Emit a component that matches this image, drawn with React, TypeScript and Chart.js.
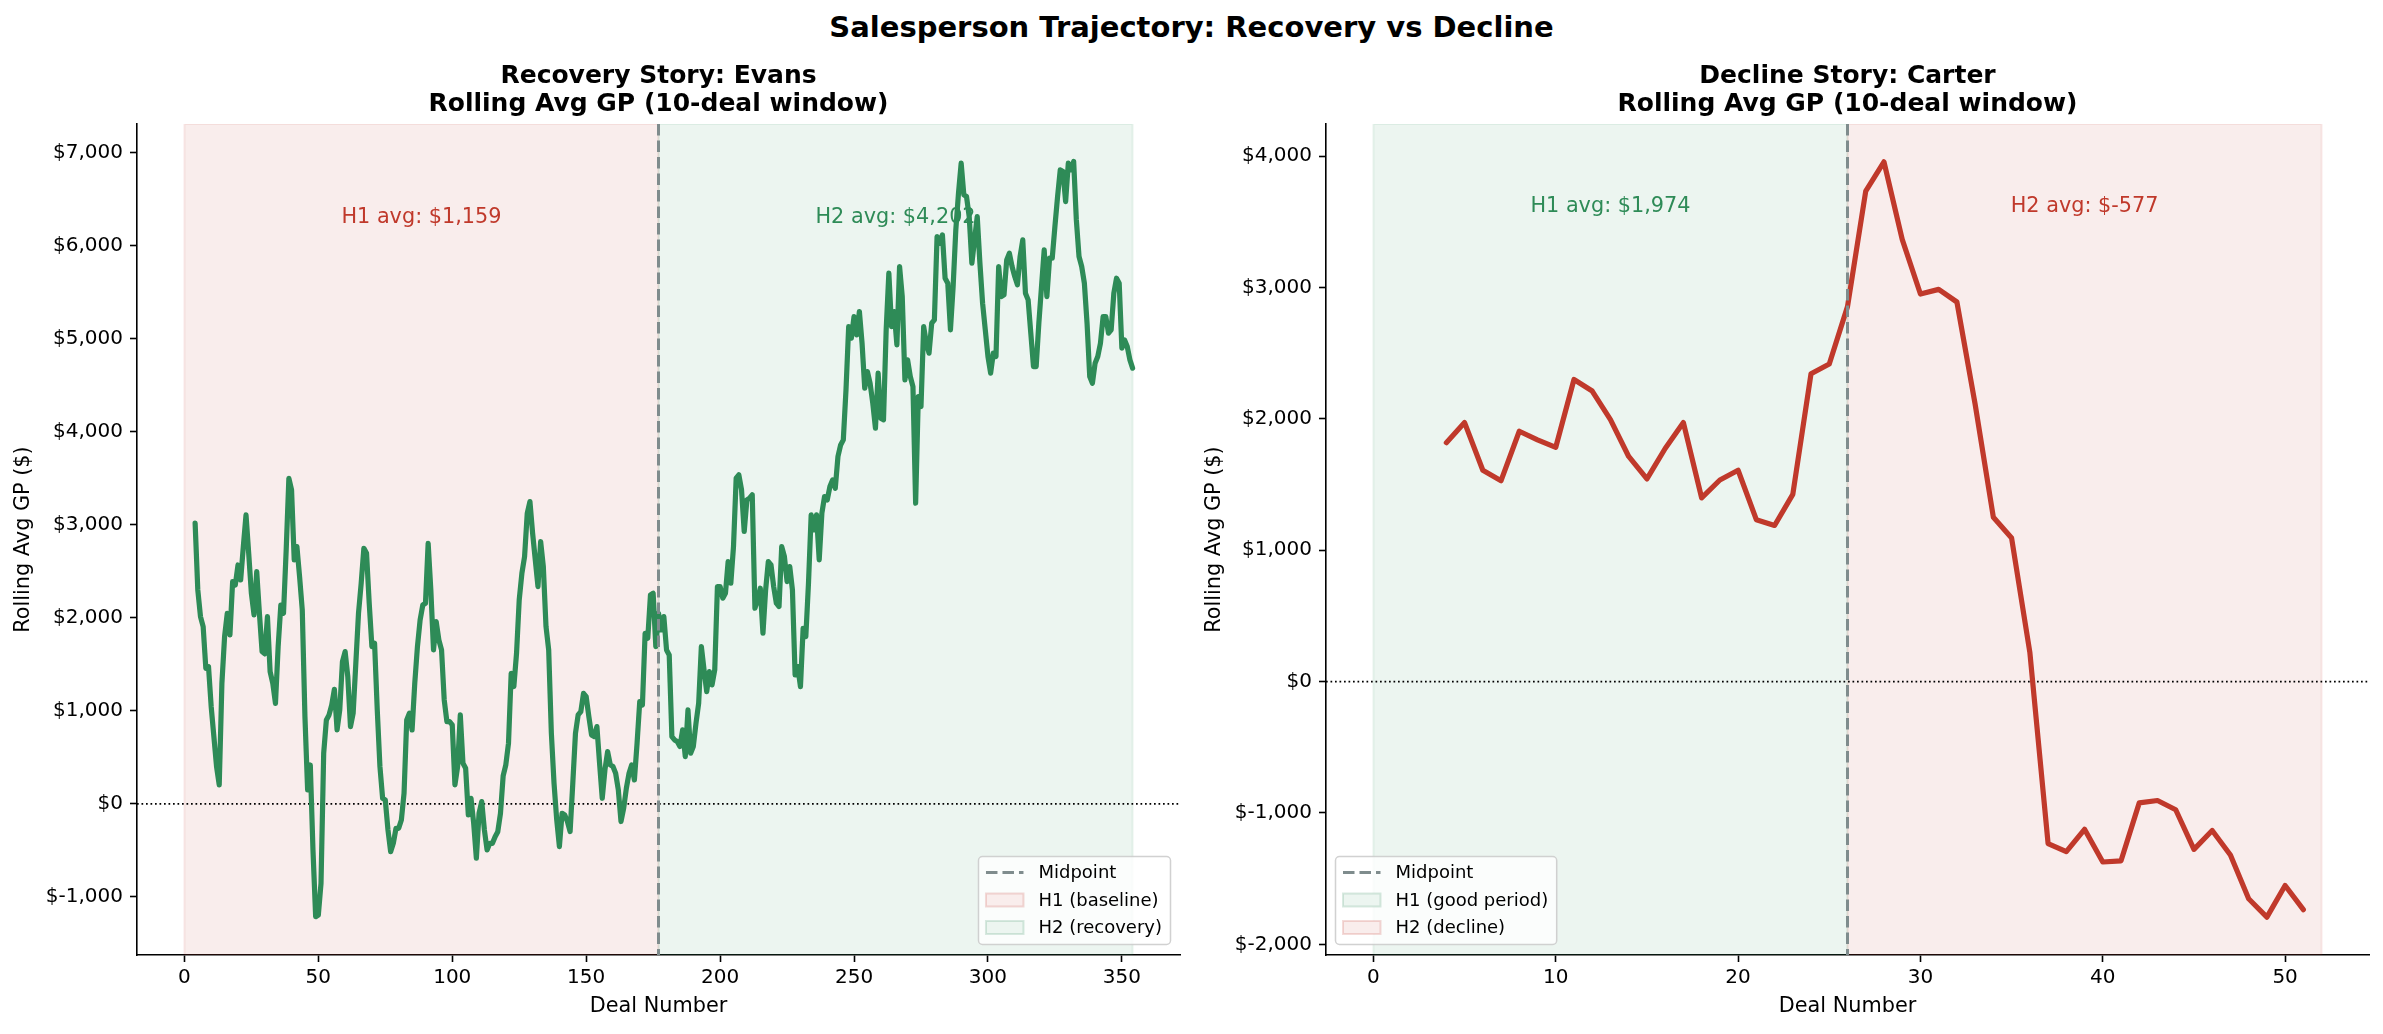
import React, { useEffect, useRef } from "react";
import { Chart, registerables } from "chart.js";

Chart.register(...registerables);

const FONT = "'DejaVu Sans', 'Liberation Sans', sans-serif";
const PAGE_W = 2383;
const PAGE_H = 1034;

const SUPTITLE = "Salesperson Trajectory: Recovery vs Decline";

// ---- Evans: rolling avg GP (10-deal window), deals 4..354 ----
const EVANS_FIRST_DEAL = 4;
const EVANS_ROLLING_GP = [
  3017, 2300, 2013, 1905, 1457, 1475, 1045, 723, 400, 203,
  1296, 1798, 2049, 1816, 2389, 2353, 2568, 2407, 2766, 3106,
  2694, 2264, 2031, 2497, 2049, 1637, 1612, 2013, 1422, 1296,
  1081, 1690, 2138, 2049, 2730, 3500, 3375, 2622, 2766, 2443,
  2085, 938, 149, 418, -496, -1213, -1195, -854, 544, 902,
  956, 1063, 1232, 794, 1010, 1529,
  1637, 1368, 830, 974, 1511, 2049, 2371, 2748, 2694, 2156,
  1690, 1726, 1010, 400, 60, 42, -281, -514, -424, -263,
  -263, -173, 113, 902, 974, 794, 1296, 1690, 1977, 2138,
  2156, 2801, 2300, 1655, 1959, 1762, 1655, 1117, 884, 884,
  848, 203, 400, 956, 436, 382, -120, 60, -209, -585,
  -102, 24, -281, -496, -424, -424, -353, -299, -102, 300,
  420, 652, 1404, 1261, 1619, 2193, 2479, 2658, 3124, 3250,
  2909, 2623, 2336, 2820, 2551, 1906, 1655, 759, 221, -172,
  -459, -101, -119, -190, -298, 221, 759, 956, 992, 1189,
  1153, 938, 741, 723, 831, 437, 60, 365, 562, 419,
  401, 329, 150, -190, -47, 168, 329, 419, 257, 652,
  1100, 1064, 1834, 1781, 2246, 2264, 1691, 2049, 1870, 2013,
  1655, 1601, 723, 687, 670, 616, 795, 508, 1010, 544,
  616, 867, 1082, 1691, 1440, 1207, 1422, 1279, 1440, 2336,
  2336, 2211, 2264, 2605, 2372, 2766, 3501, 3537, 3376, 2928,
  3268, 3286, 3322, 2103, 2193, 2318, 1834, 2300, 2605, 2569,
  2336, 2157, 2121, 2766, 2659, 2390, 2551, 2300, 1386, 1476,
  1261, 1888, 1798, 2372, 3107, 2945, 3107, 2623, 3125, 3304,
  3268, 3411, 3483, 3393, 3734, 3859, 3913, 4450, 5131, 5006,
  5239, 5042, 5293, 4952, 4468, 4648, 4522, 4307, 4038, 4630,
  4146, 4128, 5096, 5705, 5131, 5293, 4934, 5777, 5454, 4558,
  4773, 4594, 4486, 3232, 4379, 4271, 5131, 4952, 4845, 5167,
  5203, 6099, 6027, 6117, 5651, 5597, 5096, 5562, 6171, 6565,
  6888, 6547, 6529, 6314, 5812, 6063, 6314, 5812, 5382, 5096,
  4809, 4630, 4845, 4809, 5777, 5454, 5472, 5848, 5920, 5777,
  5669, 5580, 5884, 6063, 5490, 5418, 5060, 4701, 4701, 5167,
  5562, 5956, 5454, 5866, 5866, 6207, 6529, 6816, 6798, 6475,
  6888, 6816, 6906, 6278, 5884, 5777, 5597, 5167, 4594, 4522,
  4737, 4809, 4952, 5239, 5239, 5060, 5096, 5490, 5651, 5597,
  4898, 4988, 4916, 4773, 4684,
];

// ---- Carter: rolling avg GP (10-deal window), deals 4..51 ----
const CARTER_FIRST_DEAL = 4;
const CARTER_ROLLING_GP = [
  1819, 1972, 1609, 1530, 1906, 1841, 1784, 2300, 2212, 1994,
  1714, 1543, 1775, 1972, 1399, 1535, 1609, 1233, 1189, 1425,
  2344, 2418, 2855, 3734, 3957, 3367, 2951, 2986, 2890, 2112,
  1251, 1093, 223, -1233, -1294, -1124, -1373, -1364, -923, -905,
  -975, -1277, -1133, -1320, -1653, -1793, -1552, -1736,
];

const EVANS_X_TICKS = [0, 50, 100, 150, 200, 250, 300, 350];
const EVANS_Y_TICKS = [-1000, 0, 1000, 2000, 3000, 4000, 5000, 6000, 7000];
const CARTER_X_TICKS = [0, 10, 20, 30, 40, 50];
const CARTER_Y_TICKS = [-2000, -1000, 0, 1000, 2000, 3000, 4000];

const EVANS_SPLIT = [0, 177, 354];
const CARTER_SPLIT = [0, 26, 52];

const EVANS_AVG_LABELS = ["H1 avg: $1,159", "H2 avg: $4,202"];
const CARTER_AVG_LABELS = ["H1 avg: $1,974", "H2 avg: $-577"];
const EVANS_AVG_LABEL_Y = 6300;
const CARTER_AVG_LABEL_Y = 3620;

const EVANS_LEGEND = ["Midpoint", "H1 (baseline)", "H2 (recovery)"];
const CARTER_LEGEND = ["Midpoint", "H1 (good period)", "H2 (decline)"];

const GREEN = "#2e8b57";
const RED = "#c0392b";
const MID_GRAY = "#7f8c8d";
const SPAN_ALPHA = 0.09;

function rgba(hex: string, a: number): string {
  const n = parseInt(hex.slice(1), 16);
  return `rgba(${(n >> 16) & 255},${(n >> 8) & 255},${n & 255},${a})`;
}

interface PanelSpec {
  left: number;
  width: number;
  yAxisWidth: number;
  padRight: number;
  title: string[];
  firstDeal: number;
  values: number[];
  color: string;
  xMin: number;
  xMax: number;
  yMin: number;
  yMax: number;
  xTicks: number[];
  yTicks: number[];
  split: number[];
  h1Color: string;
  h2Color: string;
  avgLabels: string[];
  avgY: number;
  legendSide: "left" | "right";
  legendLabels: string[];
}

const EVANS_SPEC: PanelSpec = {
  left: 0,
  width: 1191,
  yAxisWidth: 137,
  padRight: 11,
  title: ["Recovery Story: Evans", "Rolling Avg GP (10-deal window)"],
  firstDeal: EVANS_FIRST_DEAL,
  values: EVANS_ROLLING_GP,
  color: GREEN,
  xMin: -17.7,
  xMax: 371.7,
  yMin: -1625,
  yMax: 7309,
  xTicks: EVANS_X_TICKS,
  yTicks: EVANS_Y_TICKS,
  split: EVANS_SPLIT,
  h1Color: RED,
  h2Color: GREEN,
  avgLabels: EVANS_AVG_LABELS,
  avgY: EVANS_AVG_LABEL_Y,
  legendSide: "right",
  legendLabels: EVANS_LEGEND,
};

const CARTER_SPEC: PanelSpec = {
  left: 1191,
  width: 1192,
  yAxisWidth: 135,
  padRight: 14,
  title: ["Decline Story: Carter", "Rolling Avg GP (10-deal window)"],
  firstDeal: CARTER_FIRST_DEAL,
  values: CARTER_ROLLING_GP,
  color: RED,
  xMin: -2.6,
  xMax: 54.6,
  yMin: -2081,
  yMax: 4245,
  xTicks: CARTER_X_TICKS,
  yTicks: CARTER_Y_TICKS,
  split: CARTER_SPLIT,
  h1Color: GREEN,
  h2Color: RED,
  avgLabels: CARTER_AVG_LABELS,
  avgY: CARTER_AVG_LABEL_Y,
  legendSide: "left",
  legendLabels: CARTER_LEGEND,
};

function Panel({ spec }: { spec: PanelSpec }) {
  const ref = useRef<HTMLCanvasElement | null>(null);

  useEffect(() => {
    const canvas = ref.current;
    if (!canvas) return;

    const overlay = {
      id: "overlay",
      beforeDatasetsDraw(chart: any) {
        const { ctx, chartArea: ca } = chart;
        const xs = chart.scales.x;
        const ys = chart.scales.y;
        const p0 = xs.getPixelForValue(spec.split[0]);
        const pm = xs.getPixelForValue(spec.split[1]);
        const p1 = xs.getPixelForValue(spec.split[2]);
        ctx.save();
        ctx.beginPath();
        ctx.rect(ca.left, ca.top, ca.right - ca.left, ca.bottom - ca.top);
        ctx.clip();
        const span = (a: number, b: number, c: string) => {
          ctx.fillStyle = rgba(c, SPAN_ALPHA);
          ctx.fillRect(a, ca.top, b - a, ca.bottom - ca.top);
          ctx.strokeStyle = rgba(c, SPAN_ALPHA);
          ctx.lineWidth = 2;
          ctx.strokeRect(a, ca.top, b - a, ca.bottom - ca.top);
        };
        span(p0, pm, spec.h1Color);
        span(pm, p1, spec.h2Color);
        // zero line
        const y0 = ys.getPixelForValue(0);
        ctx.setLineDash([1.7, 2.8]);
        ctx.lineWidth = 1.6;
        ctx.strokeStyle = "#000";
        ctx.beginPath();
        ctx.moveTo(ca.left, y0);
        ctx.lineTo(ca.right, y0);
        ctx.stroke();
        ctx.setLineDash([]);
        // average labels
        ctx.font = `20.8px ${FONT}`;
        ctx.textAlign = "center";
        ctx.textBaseline = "middle";
        const ty = ys.getPixelForValue(spec.avgY);
        ctx.fillStyle = spec.h1Color;
        ctx.fillText(spec.avgLabels[0], xs.getPixelForValue((spec.split[0] + spec.split[1]) / 2), ty);
        ctx.fillStyle = spec.h2Color;
        ctx.fillText(spec.avgLabels[1], xs.getPixelForValue((spec.split[1] + spec.split[2]) / 2), ty);
        ctx.restore();
      },
      afterDatasetsDraw(chart: any) {
        const { ctx, chartArea: ca } = chart;
        const pm = chart.scales.x.getPixelForValue(spec.split[1]);
        ctx.save();
        ctx.strokeStyle = MID_GRAY;
        ctx.lineWidth = 3;
        ctx.setLineDash([11.5, 5]);
        ctx.beginPath();
        ctx.moveTo(pm, ca.top);
        ctx.lineTo(pm, ca.bottom);
        ctx.stroke();
        ctx.restore();
      },
      afterDraw(chart: any) {
        const { ctx, chartArea: ca } = chart;
        const fs = 18;
        ctx.save();
        ctx.font = `${fs}px ${FONT}`;
        const textW = Math.max(...spec.legendLabels.map((t) => ctx.measureText(t).width));
        const padX = 7.5;
        const handleLen = 37.5;
        const gap = 15;
        const boxW = padX + handleLen + gap + textW + padX + 1;
        const boxH = 88;
        const bx = spec.legendSide === "right" ? ca.right - 9.5 - boxW : ca.left + 9.5;
        const by = ca.bottom - 10.5 - boxH;
        ctx.beginPath();
        if ((ctx as any).roundRect) (ctx as any).roundRect(bx, by, boxW, boxH, 4);
        else ctx.rect(bx, by, boxW, boxH);
        ctx.fillStyle = "rgba(255,255,255,0.8)";
        ctx.fill();
        ctx.strokeStyle = "rgba(204,204,204,0.9)";
        ctx.lineWidth = 1.5;
        ctx.stroke();
        const colors = [MID_GRAY, spec.h1Color, spec.h2Color];
        spec.legendLabels.forEach((label, i) => {
          const cy = by + 16 + i * 27.5;
          const hx = bx + padX;
          if (i === 0) {
            ctx.strokeStyle = colors[0];
            ctx.lineWidth = 3;
            ctx.setLineDash([11.5, 5]);
            ctx.beginPath();
            ctx.moveTo(hx, cy);
            ctx.lineTo(hx + handleLen, cy);
            ctx.stroke();
            ctx.setLineDash([]);
          } else {
            ctx.fillStyle = "#fff";
            ctx.fillRect(hx, cy - 6.5, handleLen, 13);
            ctx.fillStyle = rgba(colors[i], SPAN_ALPHA);
            ctx.fillRect(hx, cy - 6.5, handleLen, 13);
            ctx.strokeStyle = rgba(colors[i], 0.18);
            ctx.lineWidth = 2;
            ctx.strokeRect(hx, cy - 6.5, handleLen, 13);
          }
          ctx.fillStyle = "#000";
          ctx.textAlign = "left";
          ctx.textBaseline = "middle";
          ctx.fillText(label, hx + handleLen + gap, cy + 1);
        });
        ctx.restore();
      },
    };

    const tickFont = { family: FONT, size: 20 };
    const labelFont = { family: FONT, size: 20.8 };

    const chart = new Chart(canvas, {
      type: "line",
      data: {
        datasets: [
          {
            data: spec.values.map((v, i) => ({ x: spec.firstDeal + i, y: v })),
            borderColor: spec.color,
            backgroundColor: spec.color,
            borderWidth: 5.2,
            pointRadius: 0,
            pointHoverRadius: 0,
            tension: 0,
            fill: false,
            borderJoinStyle: "round",
            borderCapStyle: "round",
          },
        ],
      },
      options: {
        animation: false,
        responsive: false,
        devicePixelRatio: 1,
        events: [],
        layout: { padding: { left: 0, right: spec.padRight, top: 0, bottom: 0 } },
        plugins: {
          legend: { display: false },
          tooltip: { enabled: false },
          title: {
            display: true,
            text: spec.title,
            fullSize: false,
            color: "#000",
            font: { family: FONT, size: 25, weight: "bold", lineHeight: 1.13 },
            padding: { top: 62.5, bottom: 5 },
          },
        },
        scales: {
          x: {
            type: "linear",
            min: spec.xMin,
            max: spec.xMax,
            afterBuildTicks: (s: any) => {
              s.ticks = spec.xTicks.map((v) => ({ value: v }));
            },
            afterFit: (s: any) => {
              s.height = 79;
            },
            grid: {
              display: true,
              drawOnChartArea: false,
              drawTicks: true,
              tickLength: 7,
              tickWidth: 1.6,
              tickColor: "#000",
            },
            border: { display: true, color: "#000", width: 1.6 },
            ticks: {
              color: "#000",
              font: tickFont,
              padding: 4,
              maxRotation: 0,
              autoSkip: false,
              callback: (v: any) => String(v),
            },
            title: {
              display: true,
              text: "Deal Number",
              color: "#000",
              font: labelFont,
              padding: { top: 0, bottom: 15 },
            },
          },
          y: {
            type: "linear",
            min: spec.yMin,
            max: spec.yMax,
            afterBuildTicks: (s: any) => {
              s.ticks = spec.yTicks.map((v) => ({ value: v }));
            },
            afterFit: (s: any) => {
              s.width = spec.yAxisWidth;
            },
            grid: {
              display: true,
              drawOnChartArea: false,
              drawTicks: true,
              tickLength: 7,
              tickWidth: 1.6,
              tickColor: "#000",
            },
            border: { display: true, color: "#000", width: 1.6 },
            ticks: {
              color: "#000",
              font: tickFont,
              padding: 7,
              autoSkip: false,
              callback: (v: any) => "$" + Number(v).toLocaleString("en-US"),
            },
            title: {
              display: true,
              text: "Rolling Avg GP ($)",
              color: "#000",
              font: labelFont,
              padding: { top: 11, bottom: 0 },
            },
          },
        },
      } as any,
      plugins: [overlay as any],
    });

    return () => chart.destroy();
  }, [spec]);

  return (
    <canvas
      ref={ref}
      width={spec.width}
      height={PAGE_H}
      style={{ position: "absolute", left: spec.left, top: 0, width: spec.width, height: PAGE_H, display: "block" }}
    />
  );
}

export default function App() {
  useEffect(() => {
    document.body.style.margin = "0";
  }, []);
  return (
    <div
      style={{
        position: "absolute",
        left: 0,
        top: 0,
        width: PAGE_W,
        height: PAGE_H,
        background: "#fff",
        overflow: "hidden",
      }}
    >
      <div
        style={{
          position: "absolute",
          left: 0,
          top: 13,
          width: PAGE_W,
          textAlign: "center",
          fontFamily: FONT,
          fontWeight: "bold",
          fontSize: 29,
          lineHeight: "29px",
          color: "#000",
          whiteSpace: "nowrap",
        }}
      >
        {SUPTITLE}
      </div>
      <Panel spec={EVANS_SPEC} />
      <Panel spec={CARTER_SPEC} />
    </div>
  );
}
